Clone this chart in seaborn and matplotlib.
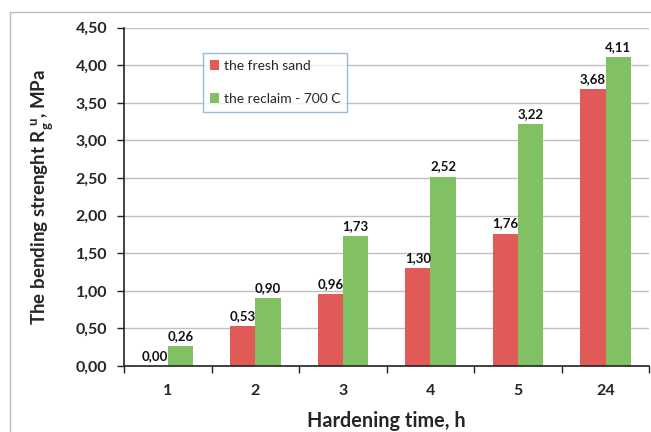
import matplotlib
matplotlib.use("Agg")
import matplotlib.pyplot as plt
import seaborn as sns
import pandas as pd
from matplotlib.ticker import FixedLocator, FuncFormatter
from matplotlib.lines import Line2D

categories = ["1", "2", "3", "4", "5", "24"]
fresh_sand = [0.00, 0.53, 0.96, 1.30, 1.76, 3.68]
reclaim_700 = [0.26, 0.90, 1.73, 2.52, 3.22, 4.11]
series_names = ["the fresh sand", "the reclaim - 700 C"]
colors = ["#E05A58", "#82C163"]

df = pd.DataFrame({
    "time": categories * 2,
    "value": fresh_sand + reclaim_700,
    "series": [series_names[0]] * len(categories) + [series_names[1]] * len(categories),
})

sns.set_theme(style="white")
plt.rcParams["font.family"] = ["Lato", "DejaVu Sans"]
plt.rcParams["mathtext.fontset"] = "custom"
plt.rcParams["mathtext.bf"] = "Lato:bold"
plt.rcParams["mathtext.rm"] = "Lato"

fig = plt.figure(figsize=(6.51, 4.32), dpi=100)
ax = fig.add_axes([0.1905, 0.1528, 0.807, 0.7831])

sns.barplot(data=df, x="time", y="value", hue="series", order=categories,
            hue_order=series_names, palette=colors, width=0.58, gap=0,
            saturation=1, ax=ax, edgecolor="none", linewidth=0)

for cont in ax.containers:
    ax.bar_label(cont, labels=[f"{v:.2f}".replace(".", ",") for v in cont.datavalues],
                 padding=3, fontsize=9.5, fontweight="bold", color="#111111")

ax.set_ylim(0, 4.5)
ax.set_xlim(-0.5, len(categories) - 0.5)
ax.yaxis.set_major_locator(FixedLocator([i * 0.5 for i in range(10)]))
ax.yaxis.set_major_formatter(FuncFormatter(lambda v, p: f"{v:.2f}".replace(".", ",")))
ax.grid(axis="y", color="#C0C0C0", linewidth=1)
ax.set_axisbelow(True)
for s in ["top", "right"]:
    ax.spines[s].set_visible(False)
for s in ["left", "bottom"]:
    ax.spines[s].set_color("#222222")
    ax.spines[s].set_linewidth(1.2)

ax.xaxis.set_minor_locator(FixedLocator([i - 0.5 for i in range(len(categories) + 1)]))
ax.tick_params(axis="x", which="major", length=0, pad=13, labelsize=11.5)
ax.tick_params(axis="x", which="minor", length=5, width=1, color="#222222", direction="out", bottom=True)
ax.tick_params(axis="y", which="major", length=5, width=1, color="#222222", direction="out", left=True,
               labelsize=11.5, pad=7)
for lab in ax.get_xticklabels() + ax.get_yticklabels():
    lab.set_fontweight("bold")

ax.set_xlabel("Hardening time, h", fontsize=14.3, fontweight="bold", labelpad=9)
ax.set_ylabel(r"The bending strenght R$_\mathbf{g}^{\ \mathbf{u}}$, MPa", fontsize=13.5,
              fontweight="bold", labelpad=14)

leg = ax.legend(loc="upper left", bbox_to_anchor=(0.150, 0.925), borderaxespad=0, frameon=True,
                fancybox=False, fontsize=10, handlelength=0.7, handleheight=0.7, handletextpad=0.3,
                labelspacing=1.5, borderpad=0.5, title=None)
leg.get_frame().set_edgecolor("#7FA8D8")
leg.get_frame().set_linewidth(1)

fig.add_artist(Line2D([10 / 651, 1.0], [1 - 12 / 432, 1 - 12 / 432], transform=fig.transFigure,
                      color="#BBBBBB", linewidth=1))
fig.add_artist(Line2D([10 / 651, 10 / 651], [0, 1 - 12 / 432], transform=fig.transFigure,
                      color="#BBBBBB", linewidth=1))

fig.savefig("out.png", dpi=100)
